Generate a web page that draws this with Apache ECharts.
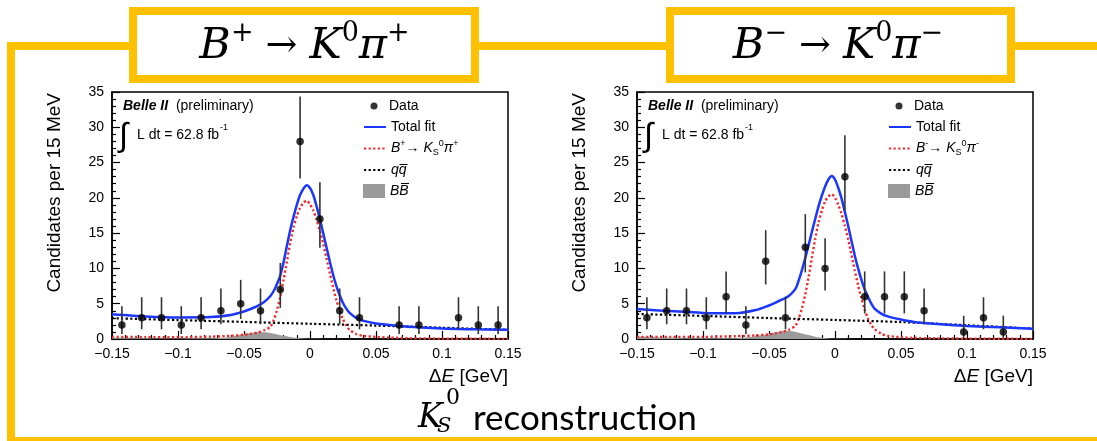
<!DOCTYPE html>
<html>
<head>
<meta charset="utf-8">
<script src="https://cdn.jsdelivr.net/npm/echarts@6/dist/echarts.min.js"></script>
<style>
html, body { margin: 0; padding: 0; background: #fff; }
#chart { width: 1097px; height: 441px; }
</style>
</head>
<body>
<div id="chart"></div>
<script>
// ΔE bin centres, 15 MeV bins from -0.15 to 0.15 GeV
const binCenters = [-0.1425, -0.1275, -0.1125, -0.0975, -0.0825, -0.0675, -0.0525, -0.0375, -0.0225, -0.0075,
                    0.0075, 0.0225, 0.0375, 0.0525, 0.0675, 0.0825, 0.0975, 0.1125, 0.1275, 0.1425];

// B+ -> K0 pi+ : candidates per bin and Poisson interval ends (null = empty bin)
const countsPlus  = [2, 3, 3, 2, 3, 4, 5, 4, 7, 28, 17, 4, 3, null, 2, 2, null, 3, 2, 2];
const errLowPlus  = [0.71, 1.37, 1.37, 0.71, 1.37, 2.09, 2.84, 2.09, 4.42, 22.73, 12.92, 2.09, 1.37, null, 0.71, 0.71, null, 1.37, 0.71, 0.71];
const errHighPlus = [4.64, 5.92, 5.92, 4.64, 5.92, 7.16, 8.38, 7.16, 10.77, 34.35, 22.20, 7.16, 5.92, null, 4.64, 4.64, null, 5.92, 4.64, 4.64];

// B- -> K0 pi- : candidates per bin and Poisson interval ends
const countsMinus  = [3, 4, 4, 3, 6, 2, 11, 3, 13, 10, 23, 6, 6, 6, 4, null, 1, 3, 1, null];
const errLowMinus  = [1.37, 2.09, 2.09, 1.37, 3.62, 0.71, 7.73, 1.37, 9.44, 6.89, 18.24, 3.62, 3.62, 3.62, 2.09, null, 0.17, 1.37, 0.17, null];
const errHighMinus = [5.92, 7.16, 7.16, 5.92, 9.58, 4.64, 15.42, 5.92, 17.70, 14.27, 28.86, 9.58, 9.58, 9.58, 7.16, null, 3.30, 5.92, 3.30, null];

// fit curves sampled in ΔE
const curveX = [-0.15, -0.125, -0.1, -0.075, -0.06, -0.05, -0.045, -0.04, -0.035, -0.03,
                -0.0275, -0.025, -0.0225, -0.02, -0.0175, -0.015, -0.0125, -0.01, -0.0075, -0.005,
                -0.0025, 0, 0.0025, 0.005, 0.0075, 0.01, 0.0125, 0.015, 0.0175, 0.02,
                0.0225, 0.025, 0.0275, 0.03, 0.035, 0.04, 0.05, 0.06, 0.075, 0.1,
                0.125, 0.15];
const totalPlus = [3.5, 3.2, 3.05, 3.1, 3.4, 3.9, 4.25, 4.65, 5.2, 6.1,
                   6.8, 7.8, 9.0, 10.9, 13.2, 15.4, 17.3, 19.0, 20.4, 21.3,
                   21.8, 21.4, 20.4, 18.8, 17.0, 15.0, 13.0, 11.0, 9.1, 7.5,
                   6.2, 5.1, 4.3, 3.7, 3.0, 2.6, 2.2, 2.0, 1.75, 1.5,
                   1.38, 1.3];
const signalPlus = [0.3, 0.27, 0.25, 0.33, 0.45, 0.6, 0.72, 0.9, 1.2, 1.75,
                    2.7, 4.1, 6.0, 8.4, 11.0, 13.6, 15.8, 17.4, 18.6, 19.3,
                    19.6, 19.1, 18.2, 16.9, 15.3, 13.5, 11.4, 9.3, 7.3, 5.5,
                    4.0, 2.8, 1.9, 1.3, 0.7, 0.45, 0.3, 0.2, 0.12, 0.05,
                    0.03, 0.02];
const totalMinus = [4.25, 3.95, 3.7, 3.65, 4.1, 4.75, 5.15, 5.6, 6.1, 7.1,
                    8.3, 9.8, 11.5, 13.3, 15.2, 17.0, 18.8, 20.3, 21.6, 22.6,
                    23.1, 22.6, 21.4, 19.9, 18.0, 16.0, 13.9, 11.8, 10.0, 8.4,
                    7.0, 6.0, 5.0, 4.3, 3.6, 3.2, 2.75, 2.4, 2.15, 1.85,
                    1.65, 1.47];
const signalMinus = [0.3, 0.3, 0.3, 0.4, 0.5, 0.65, 0.8, 1.0, 1.3, 1.9,
                     2.9, 4.4, 6.3, 8.8, 11.5, 14.2, 16.5, 18.2, 19.5, 20.2,
                     20.5, 20.0, 19.0, 17.7, 16.0, 14.1, 11.9, 9.7, 7.6, 5.8,
                     4.2, 2.9, 2.0, 1.4, 0.75, 0.45, 0.25, 0.15, 0.1, 0.05,
                     0.03, 0.02];

// continuum (q qbar) background
const qqX = [-0.15, -0.1, -0.05, 0, 0.05, 0.1, 0.15];
const qqPlus  = [2.95, 2.68, 2.42, 2.16, 1.9, 1.6, 1.3];
const qqMinus = [3.55, 3.27, 2.97, 2.7, 2.4, 1.95, 1.47];

// B Bbar background
const bbX = [-0.15, -0.14, -0.13, -0.12, -0.1, -0.08, -0.07, -0.06, -0.055, -0.05, -0.045, -0.04,
             -0.035, -0.03, -0.025, -0.02, -0.015, -0.01, -0.005, 0, 0.01, 0.02, 0.15];
const bbPlus  = [0.12, 0.1, 0.09, 0.08, 0.08, 0.1, 0.15, 0.3, 0.5, 0.68, 0.85, 0.95,
                 0.95, 0.85, 0.65, 0.45, 0.28, 0.15, 0.07, 0.03, 0.01, 0, 0];
const bbMinus = [0.35, 0.3, 0.22, 0.15, 0.1, 0.1, 0.18, 0.38, 0.55, 0.72, 0.95, 1.1,
                 1.12, 1.0, 0.78, 0.55, 0.32, 0.16, 0.07, 0.03, 0.01, 0, 0];

// tick labels
const xTickLabels = ['\u22120.15', '\u22120.1', '\u22120.05', '0', '0.05', '0.1', '0.15'];
const yTickLabels = ['0', '5', '10', '15', '20', '25', '30', '35'];

const FONT = 'Liberation Sans';
const SERIF = 'DejaVu Serif';
const YELLOW = '#FFC000';

const zip = (xs, ys) => xs.map((x, i) => [x, ys[i]]);

const panels = [
  { dx: 0,   counts: countsPlus,  lo: errLowPlus,  hi: errHighPlus,  total: totalPlus,  signal: signalPlus,  qq: qqPlus,  bb: bbPlus,  sig: 'sigPlus' },
  { dx: 525, counts: countsMinus, lo: errLowMinus, hi: errHighMinus, total: totalMinus, signal: signalMinus, qq: qqMinus, bb: bbMinus, sig: 'sigMinus' }
];

const legendText = {
  'Data': '{d|Data}',
  'Total fit': '{n|Total fit}',
  'sigPlus': '{i|B}{sup|+}{n|\u2192 }{i|K}{sub|S}{sup|0}{i|\u03c0}{sup|+}',
  'sigMinus': '{i|B}{sup|-}{n|\u2192 }{i|K}{sub|S}{sup|0}{i|\u03c0}{sup|-}',
  'qq': '{i|q}{i|q\u0305}',
  'bb': '{i|B}{i|B\u0305}'
};
const legendRich = {
  d:   { fontFamily: FONT, fontSize: 14, color: '#000', padding: [0, 0, 0, 6.5] },
  n:   { fontFamily: FONT, fontSize: 14, color: '#000' },
  i:   { fontFamily: FONT, fontSize: 14, fontStyle: 'italic', color: '#000' },
  sup: { fontFamily: FONT, fontSize: 9, color: '#000', padding: [0, 0, 10, 0] },
  sub: { fontFamily: FONT, fontSize: 9, color: '#000', padding: [8, 0, 0, 0] }
};

const grids = [], xAxes = [], yAxes = [], series = [], legends = [], graphics = [];

panels.forEach((p, k) => {
  grids.push({ left: 112 + p.dx, top: 92, width: 396, height: 247, show: true,
               borderColor: '#000', borderWidth: 1.5, backgroundColor: 'transparent',
               outerBoundsMode: 'none' });
  xAxes.push({
    gridIndex: k, type: 'value', min: -0.15, max: 0.15, interval: 0.05,
    axisLine: { show: true, onZero: false, lineStyle: { color: '#000', width: 1.5 } },
    axisTick: { show: true, inside: true, length: 8, lineStyle: { color: '#000', width: 1.2 } },
    minorTick: { show: true, splitNumber: 5, length: 4, lineStyle: { color: '#000', width: 1.2 } },
    splitLine: { show: false }, minorSplitLine: { show: false },
    axisLabel: { margin: 8, fontSize: 14, color: '#000', fontFamily: FONT,
                 formatter: v => xTickLabels[Math.round((v + 0.15) / 0.05)] }
  });
  yAxes.push({
    gridIndex: k, type: 'value', min: 0, max: 35, interval: 5,
    axisLine: { show: true, onZero: false, lineStyle: { color: '#000', width: 1.5 } },
    axisTick: { show: true, inside: true, length: 8, lineStyle: { color: '#000', width: 1.2 } },
    minorTick: { show: true, splitNumber: 5, length: 4, lineStyle: { color: '#000', width: 1.2 } },
    splitLine: { show: false }, minorSplitLine: { show: false },
    axisLabel: { margin: 8, fontSize: 14, color: '#000', fontFamily: FONT,
                 formatter: v => yTickLabels[Math.round(v / 5)] }
  });

  const pts = [], bars = [];
  binCenters.forEach((x, i) => {
    if (p.counts[i] == null) return;
    pts.push([x, p.counts[i]]);
    bars.push([x, p.lo[i], p.hi[i]]);
  });

  series.push({
    type: 'line', name: 'bb', xAxisIndex: k, yAxisIndex: k, data: zip(bbX, p.bb),
    symbol: 'none', smooth: 0.3, lineStyle: { width: 0 }, itemStyle: { color: '#9a9a9a' },
    areaStyle: { color: '#9a9a9a', opacity: 1 }, z: 1, silent: true
  });
  series.push({
    type: 'line', name: p.sig, xAxisIndex: k, yAxisIndex: k, data: zip(curveX, p.signal),
    symbol: 'none', smooth: 0.25, itemStyle: { color: '#f02a2a' },
    lineStyle: { color: '#f02a2a', width: 2.4, type: [2.2, 2.4] }, z: 2, silent: true
  });
  series.push({
    type: 'line', name: 'qq', xAxisIndex: k, yAxisIndex: k, data: zip(qqX, p.qq),
    symbol: 'none', smooth: 0.3, itemStyle: { color: '#000' },
    lineStyle: { color: '#000', width: 2.2, type: [2.2, 2.4] }, z: 3, silent: true
  });
  series.push({
    type: 'line', name: 'Total fit', xAxisIndex: k, yAxisIndex: k, data: zip(curveX, p.total),
    symbol: 'none', smooth: 0.25, itemStyle: { color: '#1a36ff' },
    lineStyle: { color: '#1a36ff', width: 2.5 }, z: 4, silent: true
  });
  series.push({
    type: 'custom', name: 'errors', xAxisIndex: k, yAxisIndex: k, data: bars,
    encode: { x: 0, y: [1, 2] }, z: 5, silent: true,
    renderItem: (params, api) => {
      const a = api.coord([api.value(0), api.value(1)]);
      const b = api.coord([api.value(0), api.value(2)]);
      return { type: 'line', shape: { x1: a[0], y1: a[1], x2: b[0], y2: b[1] },
               style: { stroke: '#333', lineWidth: 1.6 } };
    }
  });
  series.push({
    type: 'scatter', name: 'Data', xAxisIndex: k, yAxisIndex: k, data: pts,
    symbol: 'circle', symbolSize: 7.5, itemStyle: { color: '#000' }, z: 6, silent: true
  });

  // legend rows
  const rows = [
    { name: 'Data', y: 106, w: 7, h: 7, off: 7, left: 370.5 },
    { name: 'Total fit', y: 127, w: 22, h: 14, off: 7, line: true },
    { name: p.sig, y: 148.5, w: 22, h: 14, off: 9.5, line: true },
    { name: 'qq', y: 170, w: 22, h: 14, off: 7, line: true },
    { name: 'bb', y: 191, w: 22, h: 14, off: 7, icon: 'rect' }
  ];
  rows.forEach(r => {
    const item = { name: r.name };
    if (r.icon) item.icon = r.icon;
    const lg = {
      left: (r.left || 363) + p.dx, top: r.y - r.off, orient: 'vertical', padding: 0,
      itemWidth: r.w, itemHeight: r.h, itemGap: 0, selectedMode: false,
      textStyle: { fontFamily: FONT, fontSize: 14, color: '#000', rich: legendRich },
      formatter: name => legendText[name],
      data: [item]
    };
    if (r.line) lg.itemStyle = { opacity: 0 };
    legends.push(lg);
  });

  // experiment labels
  graphics.push({
    type: 'text', x: 123 + p.dx, y: 106,
    style: { text: '{b|Belle II}{n|  (preliminary)}', verticalAlign: 'middle',
             rich: { b: { fontFamily: FONT, fontSize: 14, fontWeight: 'bold', fontStyle: 'italic', fill: '#000' },
                     n: { fontFamily: FONT, fontSize: 14, fill: '#000' } } }
  });
  graphics.push({
    type: 'text', x: 119 + p.dx, y: 137,
    style: { text: '\u222b', fontFamily: FONT, fontSize: 33, fill: '#000', verticalAlign: 'middle' }
  });
  graphics.push({
    type: 'text', x: 137 + p.dx, y: 135,
    style: { text: 'L dt = 62.8 fb', fontFamily: FONT, fontSize: 14, fill: '#000', verticalAlign: 'middle' }
  });
  graphics.push({
    type: 'text', x: 220 + p.dx, y: 128,
    style: { text: '-1', fontFamily: FONT, fontSize: 9, fill: '#000', verticalAlign: 'middle' }
  });

  // axis titles
  graphics.push({
    type: 'text', x: 55 + p.dx, y: 93, rotation: Math.PI / 2,
    style: { text: 'Candidates per 15 MeV', fontFamily: FONT, fontSize: 19, fill: '#000',
             align: 'right', verticalAlign: 'middle' }
  });
  graphics.push({
    type: 'text', x: 508 + p.dx, y: 377,
    style: { text: '{n|\u0394}{i|E}{n| [GeV]}', align: 'right', verticalAlign: 'middle',
             rich: { n: { fontFamily: FONT, fontSize: 19, fill: '#000' },
                     i: { fontFamily: FONT, fontSize: 19, fontStyle: 'italic', fill: '#000' } } }
  });
});

// outer frame and decay-channel boxes
graphics.push({
  type: 'polyline', silent: true,
  shape: { points: [[1110, 441], [11, 441], [11, 46], [1110, 46]] },
  style: { stroke: YELLOW, lineWidth: 8, fill: null }
});
[{ x: 133, w: 342, c: 304.5, s: '+' }, { x: 670, w: 341, c: 838, s: '\u2212' }].forEach(b => {
  graphics.push({
    type: 'rect', silent: true, shape: { x: b.x, y: 11, width: b.w, height: 68 },
    style: { fill: '#fff', stroke: YELLOW, lineWidth: 8 }
  });
  graphics.push({
    type: 'text', x: b.c, y: 47, silent: true,
    style: {
      text: '{i|B}{sup|' + b.s + '}{a| \u2192 }{i|K}{sup|0}{i|\u03c0}{sup|' + b.s + '}',
      align: 'center', verticalAlign: 'middle',
      rich: {
        i:   { fontFamily: SERIF, fontStyle: 'italic', fontSize: 43, fill: '#000' },
        a:   { fontFamily: SERIF, fontSize: 38, fill: '#000' },
        sup: { fontFamily: SERIF, fontSize: 27, fill: '#000', padding: [0, 0, 26, 0] }
      }
    }
  });
});

// reconstruction caption
graphics.push({ type: 'text', x: 418, y: 418, silent: true,
  style: { text: 'K', fontFamily: SERIF, fontStyle: 'italic', fontSize: 33, fill: '#000', verticalAlign: 'middle' } });
graphics.push({ type: 'text', x: 446, y: 398, silent: true,
  style: { text: '0', fontFamily: SERIF, fontSize: 22, fill: '#000', verticalAlign: 'middle' } });
graphics.push({ type: 'text', x: 437, y: 427, silent: true,
  style: { text: 'S', fontFamily: SERIF, fontStyle: 'italic', fontSize: 21, fill: '#000', verticalAlign: 'middle' } });
graphics.push({ type: 'text', x: 473, y: 419, silent: true,
  style: { text: 'reconstruction', fontFamily: 'Lato', fontSize: 35, fill: '#000', verticalAlign: 'middle' } });

const chart = echarts.init(document.getElementById('chart'), null, { renderer: 'canvas' });
chart.setOption({
  animation: false,
  backgroundColor: '#fff',
  textStyle: { fontFamily: FONT },
  grid: grids,
  xAxis: xAxes,
  yAxis: yAxes,
  legend: legends,
  series: series,
  graphic: graphics
});
</script>
</body>
</html>
